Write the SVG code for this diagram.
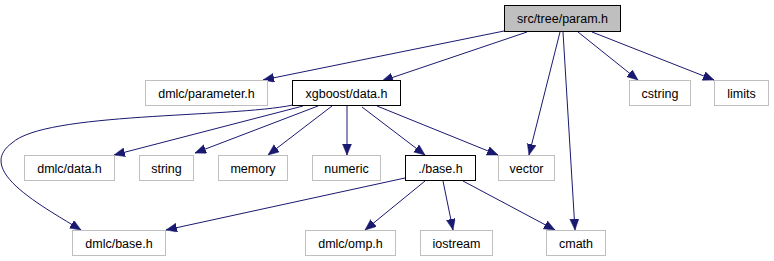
<svg xmlns="http://www.w3.org/2000/svg" width="774" height="261" viewBox="0 0 774 261">
  <style>
    .node rect { fill: #ffffff; stroke: #bfbfbf; stroke-width: 1; }
    .node.doc rect { stroke: #000000; }
    .node.root rect { fill: #bfbfbf; stroke: #000000; }
    .node text { font-family: "Liberation Sans", Arial, sans-serif; font-size: 12.5px; fill: #000000; text-anchor: middle; }
    .edges path { fill: none; stroke: #191970; stroke-width: 1; marker-end: url(#arrow); }
  </style>
  <defs>
    <marker id="arrow" markerUnits="userSpaceOnUse" markerWidth="12" markerHeight="10" refX="11" refY="4.5" orient="auto">
      <polygon points="0,0 11,4.5 0,9" fill="#191970" stroke="#191970" stroke-width="0.5"/>
    </marker>
  </defs>
  <rect width="774" height="261" fill="#ffffff"/>

  <g class="edges" id="edges">
    <path d="M504,31 L263,80"/>
    <path d="M527,32 L382,81"/>
    <path d="M560,32 L529,155"/>
    <path d="M563,32 L575,230"/>
    <path d="M578,32 L638,80"/>
    <path d="M592,32 L714,80"/>
    <path d="M293,105 C230,118 45,112 12,143 C-25,170 40,205 81,230"/>
    <path d="M303,106 L114,155"/>
    <path d="M318,106 L195,153"/>
    <path d="M332,106 L268,155"/>
    <path d="M347,106 L347,155"/>
    <path d="M362,107 L425,155"/>
    <path d="M377,106 L498,155"/>
    <path d="M405,178 L166,230"/>
    <path d="M425,181 L365,230"/>
    <path d="M443,181 L453,230"/>
    <path d="M463,181 L555,230"/>
  </g>

  <g class="node root" id="node-param">
    <rect x="504.5" y="5.5" width="116" height="26"/>
    <text x="562.5" y="22.5">src/tree/param.h</text>
  </g>
  <g class="node" id="node-dmlc-parameter">
    <rect x="145.5" y="80.5" width="122" height="25"/>
    <text x="206.5" y="97.5">dmlc/parameter.h</text>
  </g>
  <g class="node doc" id="node-xgboost-data">
    <rect x="292.5" y="80.5" width="108" height="25"/>
    <text x="346.5" y="97.5">xgboost/data.h</text>
  </g>
  <g class="node" id="node-cstring">
    <rect x="629.5" y="80.5" width="61" height="25"/>
    <text x="660" y="97.5">cstring</text>
  </g>
  <g class="node" id="node-limits">
    <rect x="714.5" y="80.5" width="54" height="25"/>
    <text x="741.5" y="97.5">limits</text>
  </g>
  <g class="node" id="node-dmlc-data">
    <rect x="24.5" y="155.5" width="90" height="25"/>
    <text x="69.5" y="172.5">dmlc/data.h</text>
  </g>
  <g class="node" id="node-string">
    <rect x="139.5" y="155.5" width="54" height="25"/>
    <text x="166.5" y="172.5">string</text>
  </g>
  <g class="node" id="node-memory">
    <rect x="218.5" y="155.5" width="69" height="25"/>
    <text x="253" y="172.5">memory</text>
  </g>
  <g class="node" id="node-numeric">
    <rect x="312.5" y="155.5" width="68" height="25"/>
    <text x="346.5" y="172.5">numeric</text>
  </g>
  <g class="node doc" id="node-base">
    <rect x="405.5" y="155.5" width="70" height="25"/>
    <text x="440.5" y="172.5">./base.h</text>
  </g>
  <g class="node" id="node-vector">
    <rect x="498.5" y="155.5" width="56" height="25"/>
    <text x="526.5" y="172.5">vector</text>
  </g>
  <g class="node" id="node-dmlc-base">
    <rect x="72.5" y="230.5" width="93" height="25"/>
    <text x="119" y="247.5">dmlc/base.h</text>
  </g>
  <g class="node" id="node-dmlc-omp">
    <rect x="305.5" y="230.5" width="90" height="25"/>
    <text x="350.5" y="247.5">dmlc/omp.h</text>
  </g>
  <g class="node" id="node-iostream">
    <rect x="420.5" y="230.5" width="72" height="25"/>
    <text x="456.5" y="247.5">iostream</text>
  </g>
  <g class="node" id="node-cmath">
    <rect x="546.5" y="230.5" width="59" height="25"/>
    <text x="576" y="247.5">cmath</text>
  </g>
</svg>
